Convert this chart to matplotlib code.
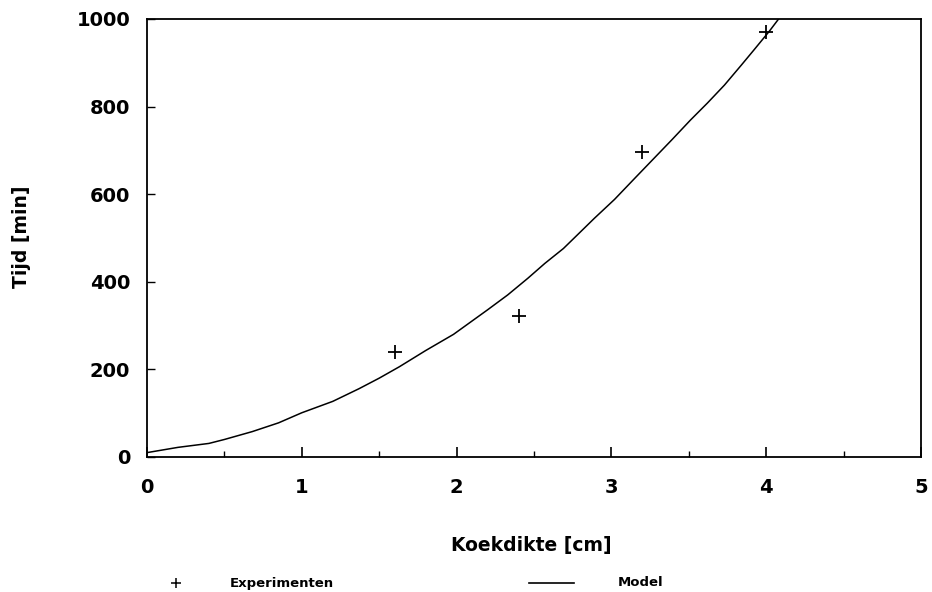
import matplotlib
matplotlib.use("Agg")
import matplotlib.pyplot as plt
from matplotlib.lines import Line2D
from matplotlib.ticker import MultipleLocator

# Measured filtration times
exp_x = [1.6, 2.4, 3.2, 4.0]
exp_y = [240, 322, 697, 970]

# Model curve
model_x = [0.0, 0.2, 0.4, 0.5, 0.68, 0.85, 1.0, 1.2, 1.37, 1.5, 1.63, 1.8,
           1.98, 2.2, 2.33, 2.46, 2.57, 2.69, 2.78, 2.89, 3.02, 3.15, 3.27,
           3.39, 3.51, 3.62, 3.73, 3.84, 3.92, 4.02, 4.08]
model_y = [10, 22, 31, 40, 58, 78, 101, 127, 156, 180, 206, 243,
           280, 336, 370, 408, 442, 476, 507, 545, 588, 636, 680,
           724, 769, 808, 849, 895, 929, 972, 1000]

x_ticks = [0, 1, 2, 3, 4, 5]
y_ticks = [0, 200, 400, 600, 800, 1000]

W, H = 932, 592
fig = plt.figure(figsize=(W / 100, H / 100), dpi=100)
ax = fig.add_axes([147 / W, (H - 457) / H, 774 / W, 438 / H])

ax.plot(model_x, model_y, color="black", linewidth=1.1)
ax.plot(exp_x, exp_y, linestyle="none", marker="+", markersize=9.5,
        markeredgewidth=1.3, color="black")

ax.set_xlim(0, 5)
ax.set_ylim(0, 1000)
ax.set_xticks(x_ticks)
ax.set_yticks(y_ticks)
ax.xaxis.set_minor_locator(MultipleLocator(0.5))

tick_font = dict(family="DejaVu Sans", weight="bold", size=14)
ax.set_xticklabels([str(v) for v in x_ticks], **tick_font)
ax.set_yticklabels([str(v) for v in y_ticks], **tick_font)
ax.tick_params(axis="x", which="major", direction="in", length=7, width=1.2, pad=15)
ax.tick_params(axis="x", which="minor", direction="in", length=4, width=1.0)
ax.tick_params(axis="y", which="major", direction="in", length=6, width=1.0, pad=12)
for s in ax.spines.values():
    s.set_linewidth(1.3)

label_font = dict(family="DejaVu Sans", weight="bold", size=13.5)
fig.text(531 / W, 1 - 545 / H, "Koekdikte [cm]", ha="center", va="center", **label_font)
fig.text(22 / W, 1 - 237 / H, "Tijd [min]", ha="center", va="center",
         rotation=90, **label_font)

# Legend row under the axis label
leg_y = 1 - 583 / H
fig.add_artist(Line2D([176 / W], [leg_y], marker="+", markersize=7,
                      markeredgewidth=1.1, color="black", transform=fig.transFigure))
fig.text(230 / W, leg_y, "Experimenten", ha="left", va="center",
         family="DejaVu Sans", weight="bold", size=9.5)
fig.add_artist(Line2D([529 / W, 574 / W], [leg_y, leg_y], color="black",
                      linewidth=1.2, transform=fig.transFigure))
fig.text(618 / W, leg_y, "Model", ha="left", va="center",
         family="DejaVu Sans", weight="bold", size=9.5)

fig.savefig("out.png", dpi=100, facecolor="white")
